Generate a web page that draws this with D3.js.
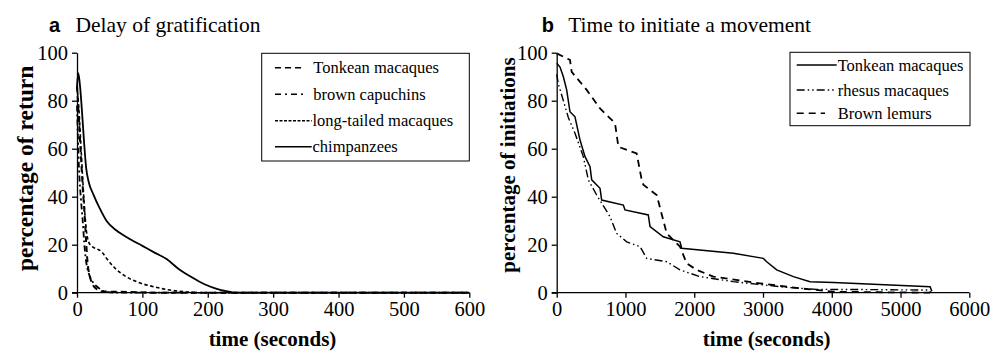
<!DOCTYPE html>
<html>
<head>
<script src="https://d3js.org/d3.v7.min.js"></script>
<style>
body { margin: 0; background: #fff; }
</style>
</head>
<body>
<div id="chart"></div>
<script>
var width = 1000;
var height = 352;
var serif = "'Liberation Serif'";

// panel a: delay of gratification, [seconds, percentage of return]
var tonkeanDelay = [[0,86],[3,72],[6,57],[9,43],[12,31],[14,21],[16,13],[19,7.5],[23,4],[30,1.5],[40,0.5],[80,0.3],[120,0],[600,0]];
var capuchinDelay = [[0,78],[3,52],[6,39],[9,29],[11,21],[13,15],[16,10],[20,6.5],[27,3.5],[34,1.8],[42,0.5],[60,0],[600,0]];
var longTailedDelay = [[0,86],[3,76],[6,61],[9,46],[12,33],[15,24.5],[20,20],[27,18.6],[38,17],[45,14.4],[56,10.8],[71,7.4],[91,4.6],[117,2.5],[142,1.1],[168,0.3],[185,0],[600,0]];
var chimpDelay = [[0,86],[2,91.5],[5,85],[8,74],[11,62],[14,52],[18,46],[25,41],[35,35],[45,30],[60,26],[80,22.5],[100,19.5],[120,16.5],[137,14],[155,10],[175,6.5],[195,3.5],[215,1.5],[235,0.3],[240,0],[600,0]];

// panel b: time to initiate a movement, [seconds, percentage of initiations]
var tonkeanMove = [[0,95.6],[48,94],[97,90],[145,84.5],[193,75.4],[266,73.3],[339,63.6],[412,56.7],[485,52.5],[509,47],[630,43.5],[654,38.6],[969,36.5],[993,34.5],[1332,32.4],[1357,27.5],[1550,23.3],[1793,21.2],[1818,18.5],[2569,16.4],[3005,14.3],[3054,12.9],[3199,9.5],[3442,6.7],[3684,4.6],[4023,4.2],[5430,2.5],[5455,0.6]];
var rhesusMove = [[0,91],[24,87],[97,80],[169,73],[266,66.4],[387,56.7],[460,47],[581,40.7],[775,31.7],[872,24.7],[1018,21.2],[1212,19.2],[1309,14.3],[1600,12.9],[1793,9.5],[2084,6.7],[2569,4.6],[3345,2.2],[3781,1.4],[4500,1.3],[5400,1.1],[5450,0]];
var lemurMove = [[0,99.7],[193,97],[218,92],[436,84.5],[630,76.8],[848,70.6],[897,60.8],[1163,58],[1236,47],[1260,45],[1454,40.7],[1600,24.7],[1793,19.2],[1890,12.2],[2036,9.5],[2278,6.7],[2956,3.9],[3539,1.8],[4023,0.4],[5430,0]];

var yTicks = [0, 20, 40, 60, 80, 100];
var xTicksA = [0, 100, 200, 300, 400, 500, 600];
var xTicksB = [0, 1000, 2000, 3000, 4000, 5000, 6000];

var svg = d3.select("#chart")
  .append("svg")
  .attr("width", width)
  .attr("height", height)
  .style("font-family", serif);

var y = d3.scaleLinear().domain([0, 100]).range([292.7, 52.7]);
var xa = d3.scaleLinear().domain([0, 600]).range([77, 469.3]);
var xb = d3.scaleLinear().domain([0, 6000]).range([556.7, 969.3]);

function drawAxes(x, ticks) {
  var gx = svg.append("g")
    .attr("transform", "translate(0," + y(0) + ")")
    .call(d3.axisBottom(x).tickValues(ticks).tickFormat(d3.format("d")).tickSize(5).tickPadding(4).tickSizeOuter(0));
  var gy = svg.append("g")
    .attr("transform", "translate(" + x(0) + ",0)")
    .call(d3.axisLeft(y).tickValues(yTicks).tickFormat(d3.format("d")).tickSize(5).tickPadding(4).tickSizeOuter(0));
  [gx, gy].forEach(function (g) {
    g.style("font-family", serif).style("font-size", "20.5px");
    g.selectAll("text").attr("fill", "#000");
    g.selectAll("line, path").attr("stroke", "#000").attr("stroke-width", 1.3);
  });
  gx.select(".domain").attr("d", "M" + (x(0) - 5) + ",0H" + x.range()[1]);
}

function drawSeries(x, data, dash, curve, w) {
  var line = d3.line()
    .x(function (d) { return x(d[0]); })
    .y(function (d) { return y(d[1]); })
    .curve(curve);
  svg.append("path")
    .datum(data)
    .attr("d", line)
    .attr("fill", "none")
    .attr("stroke", "#000")
    .attr("stroke-width", w)
    .attr("stroke-dasharray", dash);
}

function drawLegend(box, items) {
  svg.append("rect")
    .attr("x", box[0]).attr("y", box[1])
    .attr("width", box[2]).attr("height", box[3])
    .attr("fill", "#fff").attr("stroke", "#000").attr("stroke-width", 1);
  items.forEach(function (it) {
    svg.append("line")
      .attr("x1", it.x1).attr("x2", it.x2)
      .attr("y1", it.y).attr("y2", it.y)
      .attr("stroke", "#000").attr("stroke-width", it.w)
      .attr("stroke-dasharray", it.dash);
    svg.append("text")
      .attr("x", it.tx).attr("y", it.y + 5.5)
      .style("font-size", "16.5px")
      .text(it.label);
  });
}

function drawTitle(x, letter, label) {
  svg.append("text")
    .attr("x", x).attr("y", 31.7)
    .style("font-family", "'Liberation Sans'")
    .style("font-weight", "bold")
    .style("font-size", "20px")
    .text(letter);
  svg.append("text")
    .attr("x", x + 26.5).attr("y", 31.7)
    .style("font-size", "21.5px")
    .text(label);
}

function drawLabels(xLabelX, yLabelX, yLabelY, yLabel, ySize) {
  svg.append("text")
    .attr("x", xLabelX).attr("y", 346)
    .attr("text-anchor", "middle")
    .style("font-weight", "bold")
    .style("font-size", "21px")
    .text("time (seconds)");
  svg.append("text")
    .attr("transform", "translate(" + yLabelX + "," + yLabelY + ") rotate(-90)")
    .attr("text-anchor", "middle")
    .attr("dy", "0.35em")
    .style("font-weight", "bold")
    .style("font-size", ySize + "px")
    .text(yLabel);
}

// panel a
drawAxes(xa, xTicksA);
drawSeries(xa, tonkeanDelay, "6,4", d3.curveMonotoneX, 2);
drawSeries(xa, capuchinDelay, "6,3,2,3", d3.curveMonotoneX, 1.8);
drawSeries(xa, longTailedDelay, "3.5,2.5", d3.curveMonotoneX, 1.6);
drawSeries(xa, chimpDelay, null, d3.curveMonotoneX, 1.8);
drawTitle(49, "a", "Delay of gratification");
drawLabels(272.5, 25, 168.4, "percentage of return", 23.5);
drawLegend([261.7, 53.3, 207.6, 107.7], [
  {label: "Tonkean macaques", y: 67.7, x1: 275, x2: 303.3, tx: 313.3, dash: "6,4", w: 1.6},
  {label: "brown capuchins", y: 94.3, x1: 275, x2: 303.3, tx: 313.3, dash: "6,4,2,4", w: 1.6},
  {label: "long-tailed macaques", y: 120.7, x1: 275, x2: 311.7, tx: 312.5, dash: "3,1.5", w: 1.4},
  {label: "chimpanzees", y: 146.7, x1: 275, x2: 311.7, tx: 312.5, dash: null, w: 1.6}
]);

// panel b
drawAxes(xb, xTicksB);
drawSeries(xb, lemurMove, "7,5", d3.curveLinear, 1.8);
drawSeries(xb, rhesusMove, "8,3,1.5,3,1.5,3", d3.curveLinear, 1.4);
drawSeries(xb, tonkeanMove, null, d3.curveLinear, 1.5);
drawTitle(541.7, "b", "Time to initiate a movement");
drawLabels(766.7, 507.5, 165, "percentage of initiations", 21);
drawLegend([790, 52.3, 180, 73.4], [
  {label: "Tonkean macaques", y: 65, x1: 796.7, x2: 836.7, tx: 837.7, dash: null, w: 1.5},
  {label: "rhesus macaques", y: 90, x1: 796.7, x2: 836.7, tx: 837.7, dash: "8,3,1.5,3,1.5,3", w: 1.4},
  {label: "Brown lemurs", y: 113.3, x1: 796.7, x2: 825, tx: 837.7, dash: "7,5", w: 1.6}
]);
</script>
</body>
</html>
